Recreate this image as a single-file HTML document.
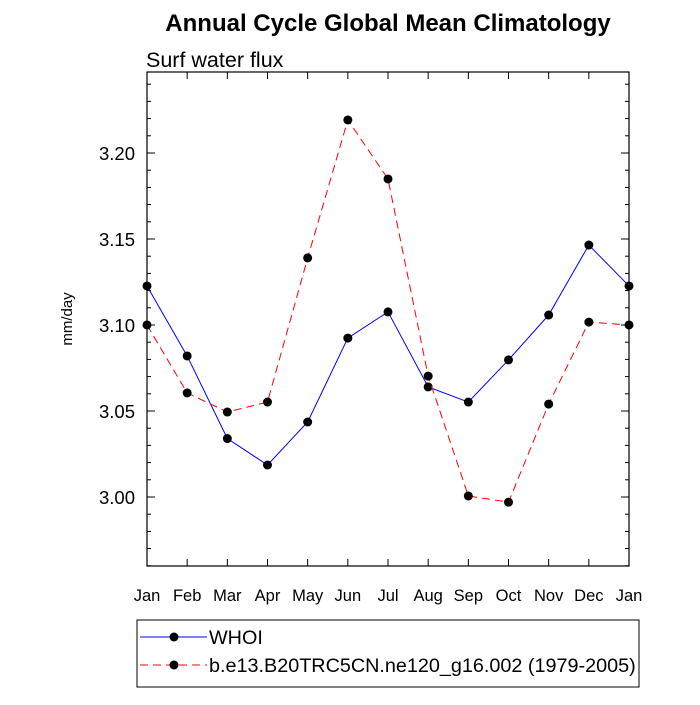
<!DOCTYPE html>
<html><head><meta charset="utf-8"><style>
body{margin:0;background:#fff;font-family:"Liberation Sans",sans-serif}
</style></head><body>
<svg id="c" width="700" height="700" xmlns="http://www.w3.org/2000/svg" font-family="Liberation Sans, sans-serif">
<text x="388" y="31" text-anchor="middle" font-size="24" font-weight="bold">Annual Cycle Global Mean Climatology</text>
<text x="146" y="67" font-size="21.5">Surf water flux</text>
<text x="0" y="0" transform="translate(72,319) rotate(-90)" text-anchor="middle" font-size="15">mm/day</text>
<g id="ax"></g><g id="series"></g>
<g>
<rect x="137" y="620" width="502" height="67" fill="none" stroke="#000" stroke-width="1"/>
<g><line x1="140" y1="637" x2="207" y2="637" stroke="#00f" stroke-width="1"/><circle cx="174" cy="637" r="4.5"/><text x="209" y="644" font-size="19.8">WHOI</text></g>
<g><line x1="140" y1="665" x2="207" y2="665" stroke="#f00" stroke-width="1" stroke-dasharray="8,5"/><circle cx="174" cy="665" r="4.5"/><text x="209" y="672" font-size="19.8">b.e13.B20TRC5CN.ne120_g16.002 (1979-2005)</text></g>
</g>
</svg>
<script>
const months=["Jan","Feb","Mar","Apr","May","Jun","Jul","Aug","Sep","Oct","Nov","Dec","Jan"];
const whoi=[3.1227,3.082,3.034,3.0186,3.0436,3.0924,3.1076,3.064,3.0552,3.0797,3.1058,3.1465,3.1227];
const model=[3.100,3.0605,3.0494,3.0552,3.139,3.2192,3.1849,3.0703,3.0006,2.997,3.054,3.1017,3.100];
const yTicks=[3.00,3.05,3.10,3.15,3.20];
const yTickLabels=["3.00","3.05","3.10","3.15","3.20"];
const L=147,R=629,T=72,B=566,ymin=2.95988,ymax=3.24709;
const NS="http://www.w3.org/2000/svg";
const X=i=>L+i*(R-L)/12;
const Y=v=>B-(v-ymin)/(ymax-ymin)*(B-T);
function mk(t,a,p){const e=document.createElementNS(NS,t);for(const k in a)e.setAttribute(k,a[k]);p.appendChild(e);return e;}
const ax=document.getElementById('ax');
const fr=mk('rect',{x:L,y:T,width:R-L,height:B-T,fill:'none',stroke:'#000','stroke-width':1.2},ax);


months.forEach((m,i)=>{
 const x=X(i);
 mk('line',{x1:x,y1:B,x2:x,y2:B-7,stroke:'#000'},ax);
 mk('line',{x1:x,y1:T,x2:x,y2:T+7,stroke:'#000'},ax);
 const t=mk('text',{x:x,y:B+35,'text-anchor':'middle','font-size':16.5},ax);t.textContent=m;
 
 
});
for(let v=2.96;v<3.247;v+=0.01){const y=Y(v);
 mk('line',{x1:L,y1:y,x2:L+4,y2:y,stroke:'#000'},ax);mk('line',{x1:R,y1:y,x2:R-4,y2:y,stroke:'#000'},ax);}
yTicks.forEach((v,i)=>{const y=Y(v);
 mk('line',{x1:L,y1:y,x2:L+8,y2:y,stroke:'#000'},ax);mk('line',{x1:R,y1:y,x2:R-8,y2:y,stroke:'#000'},ax);
 const t=mk('text',{x:L-12,y:y+7,'text-anchor':'end','font-size':18.5},ax);t.textContent=yTickLabels[i];
 
 
});
const sg=document.getElementById('series');
function draw(d,col,dash,name){
 const g=mk('g',{},sg);
 
 
 mk('polyline',{points:d.map((v,i)=>X(i)+','+Y(v)).join(' '),fill:'none',stroke:col,'stroke-width':1,'stroke-dasharray':dash},g);
 d.forEach((v,i)=>{const c=mk('circle',{cx:X(i),cy:Y(v),r:4.5,fill:'#000'},g);
  
  });
}
draw(whoi,'#00f','none','series-whoi');
draw(model,'#f00','8,5','series-model');
</script>
</body></html>
